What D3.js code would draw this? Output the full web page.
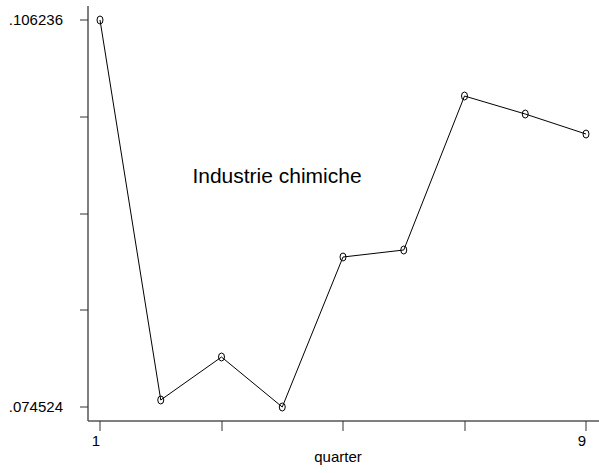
<!DOCTYPE html>
<html>
<head>
<meta charset="utf-8">
<script src="https://cdn.jsdelivr.net/npm/d3@7"></script>
<style>
  body { margin: 0; background: #fff; }
  svg text { font-family: "Liberation Sans", Arial, sans-serif; fill: #000; }
</style>
</head>
<body>
<svg id="chart" width="599" height="473"></svg>
<script>
// data
var quarters = [1, 2, 3, 4, 5, 6, 7, 8, 9];
var values = [0.106236, 0.075098, 0.078621, 0.074524, 0.086815, 0.087389, 0.100007, 0.098532, 0.096893];
var yTicks = [0.074524, 0.082452, 0.090380, 0.098308, 0.106236];
var yTickLabels = [".074524", "", "", "", ".106236"];
var xTicks = [1, 3, 5, 7, 9];
var xTickLabels = ["1", "", "", "", "9"];
var title = "Industrie chimiche";
var xTitle = "quarter";

var svg = d3.select("#chart");
var x = d3.scaleLinear().domain([1, 9]).range([100, 586]);
var y = d3.scaleLinear().domain([0.074524, 0.106236]).range([407, 20]);

var axisX = 88, axisY = 421;

// y axis
svg.append("line").attr("x1", axisX).attr("x2", axisX).attr("y1", 6).attr("y2", axisY)
  .attr("stroke", "#555").attr("stroke-width", 1.5);
var yt = svg.selectAll("g.ytick").data(yTicks).enter().append("g").attr("class", "ytick")
  .attr("transform", function(d) { return "translate(0," + Math.round(y(d)) + ")"; });
yt.append("line").attr("x1", axisX - 8).attr("x2", axisX).attr("stroke", "#333").attr("stroke-width", 1);
yt.append("text").attr("x", 63).attr("dy", "0.35em").attr("text-anchor", "end")
  .style("font-size", "15px").text(function(d, i) { return yTickLabels[i]; });

// x axis
svg.append("line").attr("x1", axisX).attr("x2", 599).attr("y1", axisY).attr("y2", axisY)
  .attr("stroke", "#555").attr("stroke-width", 1.5);
var xt = svg.selectAll("g.xtick").data(xTicks).enter().append("g").attr("class", "xtick")
  .attr("transform", function(d) { return "translate(" + Math.round(x(d)) + ",0)"; });
xt.append("line").attr("y1", axisY).attr("y2", axisY + 10).attr("stroke", "#333").attr("stroke-width", 1);
xt.append("text").attr("x", -4).attr("y", 446).attr("text-anchor", "middle")
  .style("font-size", "15px").text(function(d, i) { return xTickLabels[i]; });

svg.append("text").attr("x", 338).attr("y", 462).attr("text-anchor", "middle")
  .style("font-size", "15px").text(xTitle);

// line
var line = d3.line().x(function(d, i) { return x(quarters[i]); }).y(function(d) { return y(d); });
svg.append("path").datum(values).attr("d", line).attr("fill", "none")
  .attr("stroke", "#000").attr("stroke-width", 1);

svg.selectAll("ellipse.pt").data(values).enter().append("ellipse").attr("class", "pt")
  .attr("cx", function(d, i) { return x(quarters[i]); })
  .attr("cy", function(d) { return y(d); })
  .attr("rx", 3).attr("ry", 4)
  .attr("fill", "none").attr("stroke", "#000").attr("stroke-width", 1);

svg.append("text").attr("x", 277).attr("y", 183).attr("text-anchor", "middle")
  .style("font-size", "21px").text(title);
</script>
</body>
</html>
